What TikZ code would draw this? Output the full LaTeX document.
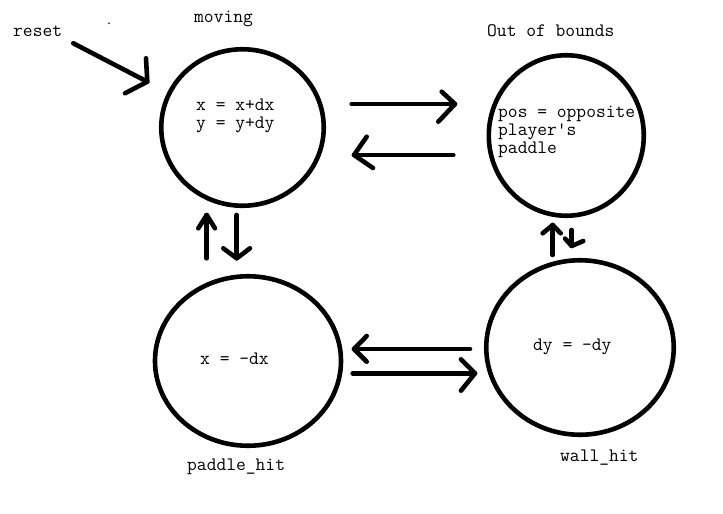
\documentclass[tikz,border=0pt]{standalone}
\usepackage{fontspec}
\usetikzlibrary{shapes.geometric,calc}
\begin{document}
\begin{tikzpicture}[x=1pt,y=-1pt,
  pen/.style={line width=4.6pt,line cap=round,line join=round},
  state/.style={draw,ellipse,line width=4.6pt,inner sep=0pt},
  lbl/.style={font=\ttfamily\fontsize{19}{20}\selectfont,inner sep=0pt,anchor=base west}]
\useasboundingbox[fill=white] (0,0) rectangle (723,514);
% states
\node[state,minimum width=162.5pt,minimum height=156.5pt] (moving) at (242.5,127.5) {};
\node[state,minimum width=155pt,minimum height=160.5pt] (oob) at (566.3,135.5) {};
\node[state,minimum width=186pt,minimum height=169.5pt] (paddle) at (248,361) {};
\node[state,minimum width=187.5pt,minimum height=174.5pt] (wall) at (580,347.5) {};
% labels
\node[lbl] (tReset) at (13,36.7) {reset};
\node[lbl] (tMoving) at (194,23) {moving};
\node[lbl] (tM1) at (196,110) {x = x+dx};
\node[lbl] (tM2) at (196,128) {y = y+dy};
\node[lbl] (tOob) at (487,36) {Out of bounds};
\node[lbl] (tO1) at (498,117.5) {pos = opposite};
\node[lbl] (tO2) at (498,135.5) {player's};
\node[lbl] (tO3) at (498,153.5) {paddle};
\node[lbl] (tP1) at (200,364) {x = -dx};
\node[lbl] (tPaddle) at (187,470.5) {paddle\_hit};
\node[lbl] (tW1) at (533,350) {dy = -dy};
\node[lbl] (tWall) at (560,461.5) {wall\_hit};
\fill[black!80] (109,23.3) circle (1pt);
% arrow end points
\coordinate (r0) at (73.3,43.3);   \coordinate (r1) at (147.3,81.7);
\coordinate (a0) at (351.7,104);   \coordinate (a1) at (455,104);
\coordinate (b0) at (453.3,155);   \coordinate (b1) at (354,155);
\coordinate (c0) at (206.7,258.3); \coordinate (c1) at (206.7,215);
\coordinate (d0) at (236.7,215);   \coordinate (d1) at (236.7,258.3);
\coordinate (e0) at (470,349);     \coordinate (e1) at (354,349);
\coordinate (f0) at (352.7,373.3); \coordinate (f1) at (475,373.3);
\coordinate (g0) at (552.7,255);   \coordinate (g1) at (552.7,225);
\coordinate (h0) at (571.7,230);   \coordinate (h1) at (571.7,246);
% reset arrow
\draw[pen] (r0) -- (r1);
\draw[pen] ($(r1)+(-1.3,-23.4)$) -- (r1) -- ($(r1)+(-22.3,11.6)$);
% moving -> out of bounds
\draw[pen] (a0) -- (a1);
\draw[pen] ($(a1)+(-13.3,-12.3)$) -- (a1) -- ($(a1)+(-16.7,17.7)$);
% out of bounds -> moving
\draw[pen] (b0) -- (b1);
\draw[pen] ($(b1)+(12.7,-18.3)$) -- (b1) -- ($(b1)+(19,13)$);
% paddle_hit -> moving
\draw[pen] (c0) -- (c1);
\draw[pen] ($(c1)+(-8.4,13.3)$) -- (c1) -- ($(c1)+(8.3,13.3)$);
% moving -> paddle_hit
\draw[pen] (d0) -- (d1);
\draw[pen] ($(d1)+(-13.4,-10)$) -- (d1) -- ($(d1)+(13.3,-10)$);
% wall_hit -> paddle_hit
\draw[pen] (e0) -- (e1);
\draw[pen] ($(e1)+(12.7,-13)$) -- (e1) -- ($(e1)+(12.7,12.7)$);
% paddle_hit -> wall_hit
\draw[pen] (f0) -- (f1);
\draw[pen] ($(f1)+(-14,-14)$) -- (f1) -- ($(f1)+(-14,17.4)$);
% wall_hit -> out of bounds
\draw[pen] (g0) -- (g1);
\draw[pen] ($(g1)+(-10,8.3)$) -- (g1) -- ($(g1)+(8,8.3)$);
% out of bounds -> wall_hit
\draw[pen] (h0) -- (h1);
\draw[pen] ($(h1)+(-6.7,-7.5)$) -- (h1) -- ($(h1)+(11.6,-5)$);
\end{tikzpicture}
\end{document}
